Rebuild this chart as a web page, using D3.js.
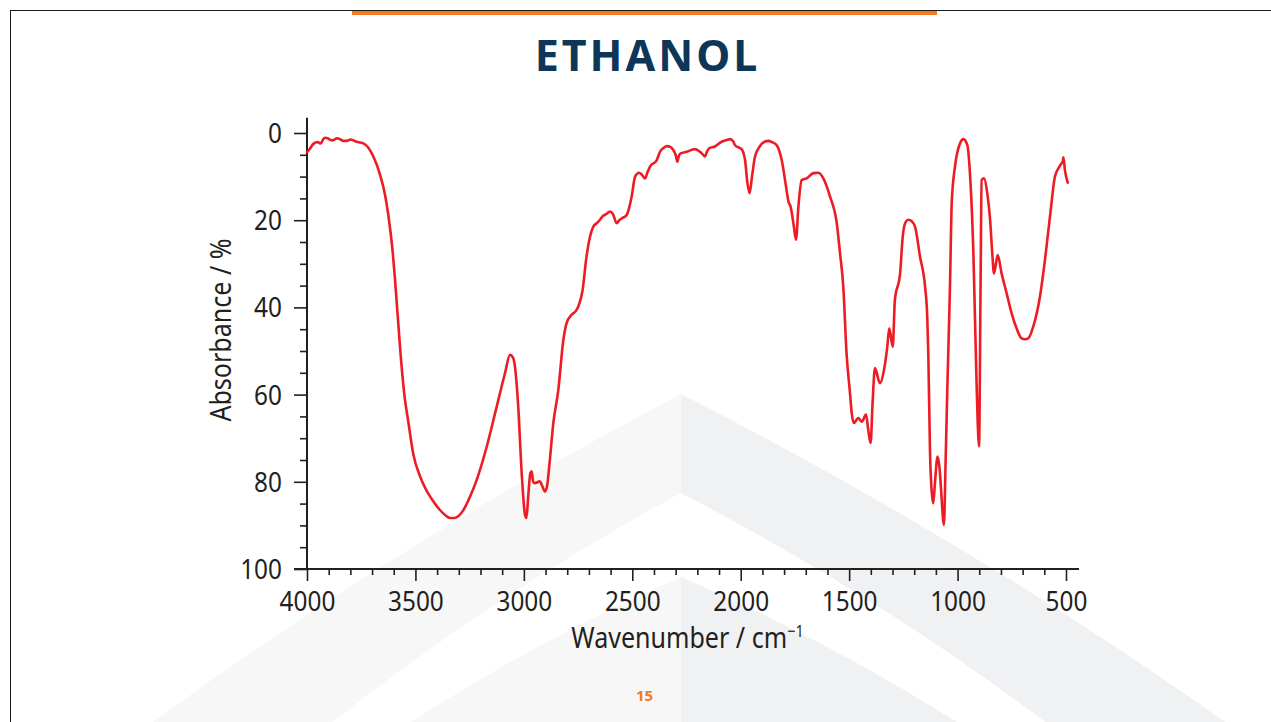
<!DOCTYPE html>
<html>
<head>
<meta charset="utf-8">
<title>Ethanol IR spectrum</title>
<script src="https://cdn.jsdelivr.net/npm/d3@7"></script>
<style>
  html, body { margin: 0; padding: 0; background: #ffffff; }
  svg { display: block; }
</style>
</head>
<body>
<script>
// Infrared spectrum of ethanol: wavenumber (cm^-1) against absorbance (%)
const wavenumbers = [
  4000, 3985, 3971, 3950, 3937, 3925, 3917, 3905, 3895, 3883, 3870, 3860, 3845, 3833, 3815,
  3799, 3785, 3771, 3755, 3740, 3717, 3694, 3663, 3640, 3625, 3605, 3594, 3582, 3571,
  3552, 3532, 3510, 3479, 3450, 3424, 3390, 3359, 3340, 3320, 3300, 3279, 3250, 3217, 3171, 3125, 3087, 3064, 3050,
  3041, 3026, 3010, 2995, 2988, 2980, 2970, 2964, 2957, 2949, 2926, 2915, 2903, 2893, 2883,
  2864, 2841, 2818, 2803, 2780, 2760, 2749, 2729, 2713, 2695, 2680, 2664, 2649, 2635, 2620,
  2603, 2590, 2572, 2560, 2549, 2526, 2503, 2487, 2469, 2455, 2441, 2430, 2418, 2387, 2372,
  2355, 2341, 2325, 2311, 2300, 2292, 2285, 2277, 2249, 2211, 2188, 2175, 2165, 2155, 2145,
  2119, 2088, 2065, 2049, 2035, 2026, 2010, 1996, 1985, 1980, 1969, 1959, 1948, 1934, 1911,
  1890, 1873, 1855, 1834, 1811, 1791, 1780, 1770, 1757, 1745, 1734, 1719, 1696, 1665, 1642,
  1619, 1588, 1557, 1542, 1527, 1512, 1496, 1488, 1478, 1458, 1442, 1422, 1412, 1401, 1392,
  1381, 1358, 1339, 1324, 1315, 1299, 1289, 1265, 1253, 1240, 1227, 1210, 1196, 1173, 1150,
  1140, 1135, 1127, 1118, 1112, 1104, 1092, 1083, 1077, 1063, 1055, 1047, 1035, 1027, 1012,
  989, 973, 955, 943, 927, 912, 901, 894, 889, 878, 863, 850, 840, 832, 815,
  797, 774, 751, 728, 705, 690, 674, 651, 620, 597, 574, 551, 535, 520, 515,
  512, 505, 492
];
const absorbance = [
  4.4, 3.5, 2.5, 2.1, 2.4, 1.4, 1.1, 1.2, 1.5, 1.7, 1.4, 1.2, 1.5, 1.8, 1.8,
  1.5, 1.7, 2.0, 2.2, 2.4, 3.4, 5.4, 9.6, 14.2, 18.8, 27.2, 33.7, 41.7, 49.1,
  59.6, 66.5, 73.6, 78.7, 81.9, 84.0, 86.3, 87.8, 88.3, 88.3, 87.8, 86.5, 83.6, 79.5, 71.9, 62.7, 55.1, 50.9, 51.5,
  53.6, 62.7, 78.0, 87.5, 88.3, 83.4, 78.0, 77.6, 80.0, 80.3, 79.9, 81.0, 82.2, 81.0, 76.5,
  66.5, 58.9, 47.5, 43.6, 41.7, 40.8, 39.8, 36.0, 29.1, 23.8, 21.5, 20.7, 19.9, 19.0, 18.6,
  18.0, 18.5, 20.7, 20.0, 19.6, 18.8, 14.6, 10.0, 9.1, 9.6, 10.4, 9.0, 7.7, 6.2, 4.3,
  3.4, 3.0, 3.2, 3.9, 5.0, 6.6, 5.2, 4.7, 4.3, 3.7, 4.3, 4.9, 5.4, 4.2, 3.5,
  3.1, 2.0, 1.6, 1.4, 1.9, 2.8, 3.3, 3.7, 5.0, 6.2, 11.5, 13.8, 10.0, 5.4, 3.0,
  2.0, 1.8, 2.1, 2.8, 6.2, 12.3, 15.7, 16.9, 20.7, 24.5, 16.9, 10.8, 10.4, 9.2, 9.1,
  10.4, 14.6, 20.7, 27.6, 35.2, 50.5, 59.7, 64.3, 66.5, 65.4, 66.2, 64.6, 68.1, 71.1, 62.0,
  53.9, 57.4, 54.3, 49.0, 44.8, 49.0, 38.3, 32.2, 23.8, 20.5, 19.9, 20.3, 21.5, 28.4, 35.2,
  42.0, 50.5, 73.4, 83.0, 84.9, 80.0, 74.2, 77.0, 81.1, 89.9, 75.0, 58.2, 35.2, 16.1, 7.7,
  2.4, 1.4, 2.8, 9.2, 27.6, 58.2, 71.9, 35.2, 10.8, 10.4, 13.8, 19.9, 27.6, 32.2, 28.0,
  32.2, 36.7, 41.3, 44.8, 47.1, 47.3, 47.1, 44.4, 37.5, 29.1, 19.2, 10.0, 8.1, 6.9, 6.5,
  5.6, 8.5, 11.4
];

const xMajorTicks = [4000, 3500, 3000, 2500, 2000, 1500, 1000, 500];
const yMajorTicks = [0, 20, 40, 60, 80, 100];
const xMinorTicks = d3.range(500, 4001, 100).filter(v => v % 500 !== 0);
const yMinorTicks = d3.range(0, 101, 5).filter(v => v % 20 !== 0);

const W = 1271, H = 722;
const ink = "#231f20";
const orange = "#f47920";
const navy = "#0d3659";
const lineRed = "#ed1c24";
const font = "'Noto Sans', 'Open Sans', sans-serif";

const svg = d3.select("body").append("svg")
  .attr("width", W).attr("height", H)
  .attr("viewBox", `0 0 ${W} ${H}`);

// ---- background emblem: nested arches, lighter on the left half ----
const apexX = 681;
function archPath(apexY, leftX, rightX, bow) {
  const bottom = H + 2;
  return `M${leftX},${bottom}` +
    `Q${(leftX + apexX) / 2 - bow},${(apexY + bottom) / 2 - bow * 0.9} ${apexX},${apexY}` +
    `Q${(rightX + apexX) / 2 + bow},${(apexY + bottom) / 2 - bow * 0.9} ${rightX},${bottom}Z`;
}
const defs = svg.append("defs");
defs.append("clipPath").attr("id", "half-left")
  .append("rect").attr("x", 0).attr("y", 0).attr("width", apexX).attr("height", H);
defs.append("clipPath").attr("id", "half-right")
  .append("rect").attr("x", apexX).attr("y", 0).attr("width", W - apexX).attr("height", H);

[["half-left", "#f7f7f7"], ["half-right", "#f0f1f3"]].forEach(([clip, shade]) => {
  const g = svg.append("g").attr("clip-path", `url(#${clip})`);
  g.append("path").attr("d", archPath(394, 150, 1228, 18)).attr("fill", shade);
  g.append("path").attr("d", archPath(493, 330, 1048, 14)).attr("fill", "#ffffff");
  g.append("path").attr("d", archPath(577, 408, 960, 10)).attr("fill", shade);
});

// ---- page frame and header ----
svg.append("line").attr("x1", 10).attr("x2", W).attr("y1", 10.5).attr("y2", 10.5)
  .attr("stroke", "#1a1a1a").attr("stroke-width", 1);
svg.append("line").attr("x1", 10.5).attr("x2", 10.5).attr("y1", 10).attr("y2", H)
  .attr("stroke", "#1a1a1a").attr("stroke-width", 1);
svg.append("rect").attr("x", 352).attr("y", 11).attr("width", 585).attr("height", 4)
  .attr("fill", orange);

svg.append("text")
  .attr("x", 647.5).attr("y", 71)
  .attr("text-anchor", "middle")
  .attr("font-family", font).attr("font-weight", 700)
  .attr("font-size", 43).attr("letter-spacing", 3)
  .attr("fill", navy)
  .text("ETHANOL");

// ---- scales ----
const x = d3.scaleLinear().domain([4000, 500]).range([307, 1066]);
const y = d3.scaleLinear().domain([0, 100]).range([133, 569]);
const xAxisEnd = x(440);
const yAxisTop = y(-3.5);

const plot = svg.append("g");

// axis lines
plot.append("line")
  .attr("x1", x(4000) - 13).attr("x2", xAxisEnd)
  .attr("y1", y(100)).attr("y2", y(100))
  .attr("stroke", ink).attr("stroke-width", 2);
plot.append("line")
  .attr("x1", x(4000)).attr("x2", x(4000))
  .attr("y1", yAxisTop).attr("y2", y(100))
  .attr("stroke", ink).attr("stroke-width", 2);

// x axis ticks
const xMinor = plot.append("g").attr("transform", `translate(0,${y(100)})`)
  .call(d3.axisBottom(x).tickValues(xMinorTicks).tickSize(6).tickFormat(""));
const xMajor = plot.append("g").attr("transform", `translate(0,${y(100)})`)
  .call(d3.axisBottom(x).tickValues(xMajorTicks).tickSize(12).tickFormat(d3.format("d")));

// y axis ticks
const yMinor = plot.append("g").attr("transform", `translate(${x(4000)},0)`)
  .call(d3.axisLeft(y).tickValues(yMinorTicks).tickSize(7).tickFormat(""));
const yMajor = plot.append("g").attr("transform", `translate(${x(4000)},0)`)
  .call(d3.axisLeft(y).tickValues(yMajorTicks).tickSize(13).tickFormat(d3.format("d")));

[xMinor, xMajor, yMinor, yMajor].forEach(g => {
  g.select(".domain").remove();
  g.selectAll(".tick line").attr("stroke", ink).attr("stroke-width", 1.6);
});

const tickScale = 0.92;
xMajor.selectAll(".tick text")
  .attr("font-family", font).attr("font-size", 26.5).attr("fill", ink)
  .attr("y", 42).attr("dy", 0)
  .attr("transform", `scale(${tickScale},1)`);
yMajor.selectAll(".tick text")
  .attr("font-family", font).attr("font-size", 26.5).attr("fill", ink)
  .attr("x", -25 / tickScale).attr("dy", "0.36em")
  .attr("transform", `scale(${tickScale},1)`);

// axis titles
const titleScale = 0.85;
const xTitle = plot.append("text")
  .attr("transform", `translate(${(572 + 803) / 2},648) scale(${titleScale},1)`)
  .attr("text-anchor", "middle")
  .attr("font-family", font).attr("font-size", 29.5).attr("fill", ink);
xTitle.append("tspan").text("Wavenumber / cm");
xTitle.append("tspan").attr("font-size", 17).attr("dy", -11).text("\u22121");

plot.append("text")
  .attr("transform", `translate(231,330) rotate(-90) scale(${titleScale},1)`)
  .attr("text-anchor", "middle")
  .attr("font-family", font).attr("font-size", 29.5).attr("fill", ink)
  .text("Absorbance / %");

// ---- spectrum ----
const spectrum = wavenumbers.map((w, i) => ({ w, a: absorbance[i] }));
plot.append("path")
  .datum(spectrum)
  .attr("fill", "none")
  .attr("stroke", lineRed)
  .attr("stroke-width", 2.6)
  .attr("stroke-linejoin", "round")
  .attr("stroke-linecap", "round")
  .attr("d", d3.line()
    .x(d => x(d.w))
    .y(d => y(d.a))
    .curve(d3.curveMonotoneX));

// ---- page number ----
svg.append("text")
  .attr("x", 644.5).attr("y", 701)
  .attr("text-anchor", "middle")
  .attr("font-family", font).attr("font-weight", 700)
  .attr("font-size", 15).attr("fill", orange)
  .text("15");
</script>
</body>
</html>
